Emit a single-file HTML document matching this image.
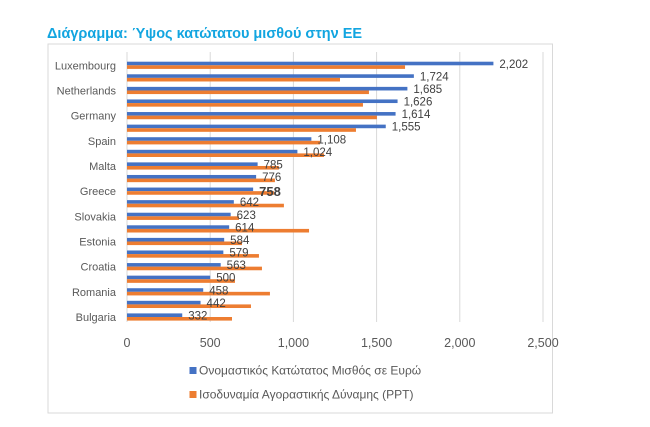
<!DOCTYPE html>
<html><head><meta charset="utf-8"><style>
body{margin:0;background:#fff;}
svg{display:block;font-family:"Liberation Sans","DejaVu Sans",sans-serif;}
</style></head><body>
<svg id="chart" width="650" height="427">
<text x="47" y="38" font-size="14.5" font-weight="bold" fill="#12a5e0">Διάγραμμα: Ύψος κατώτατου μισθού στην ΕΕ</text>
<rect x="48" y="44" width="504.5" height="369" fill="none" stroke="#d9d9d9"/>
<g id="grid"></g><g id="bars"></g><g id="labels"></g>
<g>
<rect x="189.5" y="367" width="7" height="7" fill="#4472c4"/>
<text x="199" y="374.5" font-size="12" fill="#595959">Ονομαστικός Κατώτατος Μισθός σε Ευρώ</text>
<rect x="189.5" y="391" width="7" height="7" fill="#ed7d31"/>
<text x="199" y="398.5" font-size="12" fill="#595959">Ισοδυναμία Αγοραστικής Δύναμης (PPT)</text>
</g>
</svg>
<script>
const categories=["Luxembourg","","Netherlands","","Germany","","Spain","","Malta","","Greece","","Slovakia","","Estonia","","Croatia","","Romania","","Bulgaria"];
const nominal=[2202,1724,1685,1626,1614,1555,1108,1024,785,776,758,642,623,614,584,579,563,500,458,442,332];
const ppp=[1671,1280,1454,1418,1502,1376,1160,1184,913,889,883,943,673,1094,691,793,811,649,859,745,631];
const ticks=[0,500,1000,1500,2000,2500];
const NS="http://www.w3.org/2000/svg";
const x0=127,x1=543,yTop=52,yBot=322;
const xs=v=>x0+(v/2500)*(x1-x0);
const yc=i=>65.3+i*((317-65.3)/(categories.length-1));
function mk(t,a,p,txt){const e=document.createElementNS(NS,t);for(const k in a)e.setAttribute(k,a[k]);if(txt!==undefined)e.textContent=txt;p.appendChild(e);return e;}
const G=document.getElementById('grid'),B=document.getElementById('bars'),L=document.getElementById('labels');
ticks.forEach(t=>{
 const l=mk('line',{x1:xs(t),x2:xs(t),y1:yTop,y2:yBot,stroke:'#d9d9d9','stroke-width':1},G);
 
 
 const tx=mk('text',{x:xs(t),y:347,'font-size':12.5,fill:'#595959','text-anchor':'middle'},G,t.toLocaleString('en-US'));
 
 
});
categories.forEach((c,i)=>{
 const y=yc(i);
 const b=mk('rect',{x:x0,y:y-3.6,width:xs(nominal[i])-x0,height:3.6,fill:'#4472c4'},B);
 
 
 const o=mk('rect',{x:x0,y:y,width:xs(ppp[i])-x0,height:3.6,fill:'#ed7d31'},B);
 
 
 if(c){const t=mk('text',{x:116,y:y+4,'font-size':11,fill:'#595959','text-anchor':'end'},L,c);
  
  }
 const bold=nominal[i]===758;
 const v=mk('text',{x:xs(nominal[i])+6,y:y+(bold?5:2.5),'font-size':bold?13:11.5,'font-weight':bold?'bold':'normal',fill:'#404040'},L,nominal[i].toLocaleString('en-US'));
 
 
});
</script>
</body></html>
